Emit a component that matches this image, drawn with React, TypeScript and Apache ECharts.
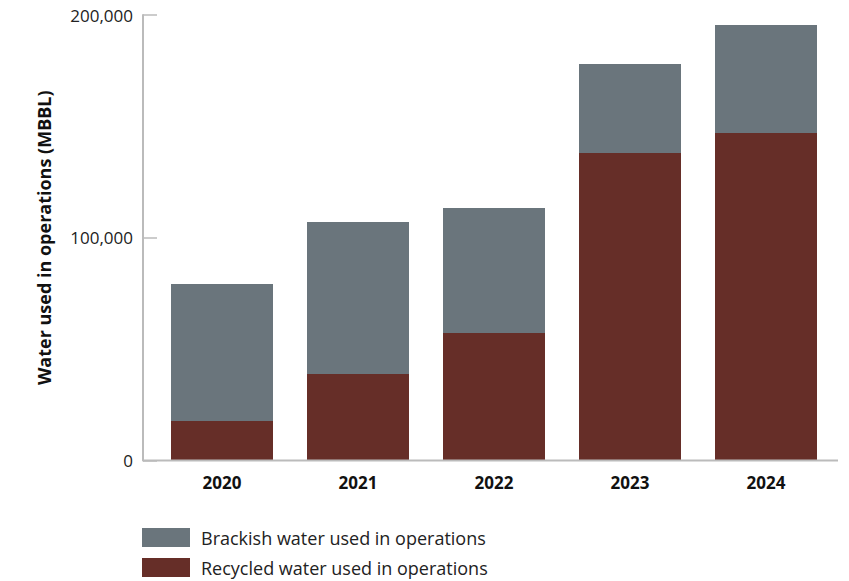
import React, { useEffect, useRef } from "react";
import * as echarts from "echarts";

const years = ["2020", "2021", "2022", "2023", "2024"];
const recycled = [17700, 38800, 57200, 138000, 147000];
const brackish = [61500, 68300, 56200, 40000, 48500];
const yTicks = [0, 100000, 200000];

const FONT = "'Open Sans', 'Noto Sans', sans-serif";

export default function App() {
  const ref = useRef<HTMLDivElement>(null);
  useEffect(() => {
    if (!ref.current) return;
    const chart = echarts.init(ref.current, undefined, { renderer: "svg" });
    chart.setOption({
      animation: false,
      textStyle: { fontFamily: FONT },
      grid: { left: 154, right: 15, top: 15, bottom: 120.5 },
      legend: {
        orient: "vertical",
        left: 142,
        top: 528,
        padding: 0,
        itemWidth: 48,
        itemHeight: 19,
        itemGap: 11,
        icon: "rect",
        selectedMode: false,
        textStyle: { fontFamily: FONT, fontSize: 18, color: "#222", padding: [0, 0, 0, 6] },
        data: ["Brackish water used in operations", "Recycled water used in operations"],
      },
      xAxis: {
        type: "category",
        data: years,
        axisLine: { show: false },
        axisTick: { show: false },
        axisLabel: { fontFamily: FONT, fontSize: 17, fontWeight: "bold", color: "#111", margin: 13 },
      },
      yAxis: {
        type: "value",
        min: yTicks[0],
        max: yTicks[yTicks.length - 1],
        interval: yTicks[1] - yTicks[0],
        offset: 11,
        name: "Water used in operations (MBBL)",
        nameLocation: "middle",
        nameRotate: 90,
        nameGap: 90,
        nameTextStyle: { fontFamily: FONT, fontSize: 18, fontWeight: "bold", color: "#111" },
        axisLine: { show: true, lineStyle: { color: "#bbbbbb", width: 2 } },
        axisTick: { show: true, inside: true, length: 14, lineStyle: { color: "#bbbbbb", width: 1.5 } },
        splitLine: { show: false },
        axisLabel: {
          fontFamily: FONT,
          fontSize: 17,
          color: "#222",
          margin: 10,
          formatter: (v: number) => v.toLocaleString("en-US"),
        },
      },
      graphic: [
        {
          type: "line",
          shape: { x1: 143, y1: 460.5, x2: 838, y2: 460.5 },
          style: { stroke: "#bbbbbb", lineWidth: 2 },
          z: 10,
        },
      ],
      series: [
        {
          name: "Recycled water used in operations",
          type: "bar",
          stack: "w",
          data: recycled,
          barWidth: 102,
          itemStyle: { color: "#662e28" },
        },
        {
          name: "Brackish water used in operations",
          type: "bar",
          stack: "w",
          data: brackish,
          barWidth: 102,
          itemStyle: { color: "#6a757c" },
        },
      ],
    });
    return () => chart.dispose();
  }, []);
  return <div ref={ref} style={{ width: 849, height: 581, position: "absolute", left: 0, top: 0 }} />;
}
